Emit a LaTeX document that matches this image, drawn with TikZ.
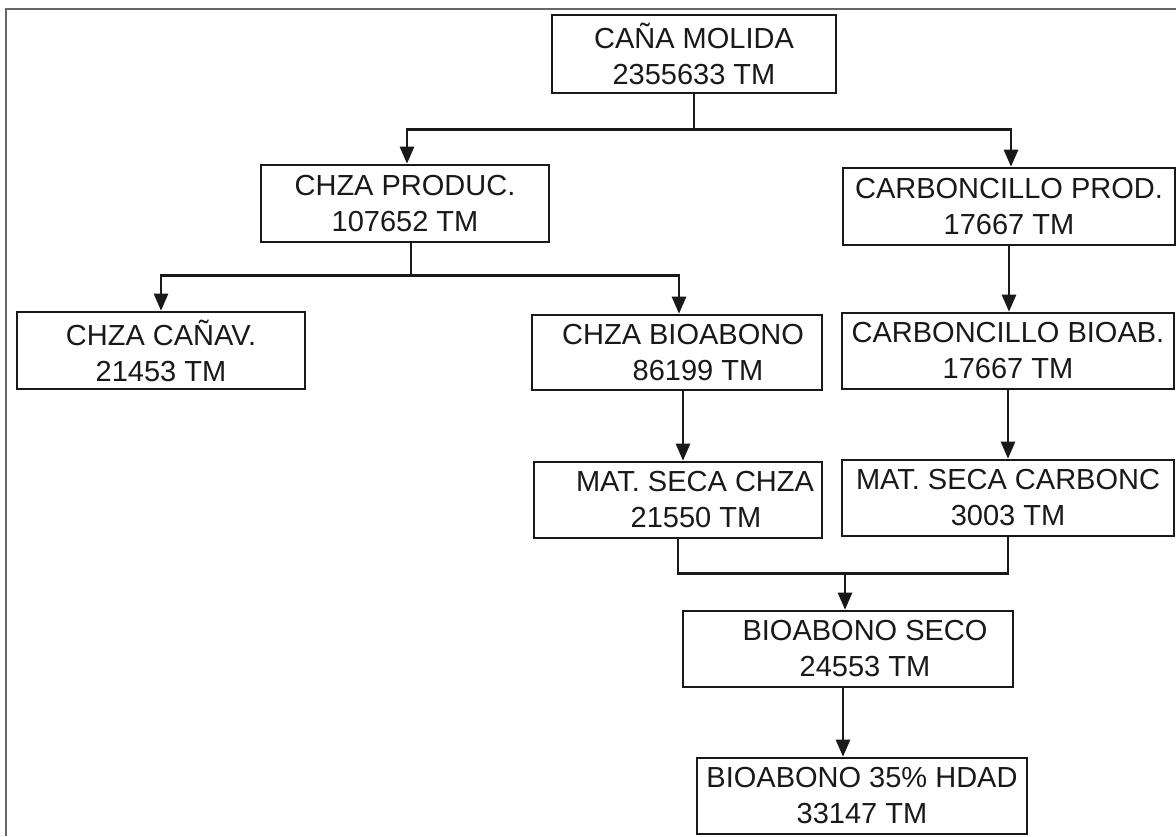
\documentclass[tikz,border=0pt]{standalone}
\usepackage{fontspec}
\setmainfont{Liberation Sans}
\usetikzlibrary{arrows.meta}
\tikzset{
  box/.style={draw=black!90, line width=2.6pt, fill=white, align=center, inner sep=0pt,
    font=\fontsize{29}{36}\selectfont, text=black!90},
  conn/.style={draw=black!90, line width=2.6pt},
  arr/.style={conn, -{Triangle[length=17pt,width=14pt]}},
  frame/.style={draw=black!60, line width=2pt}
}
\begin{document}
\begin{tikzpicture}[x=1pt,y=-1pt]
\useasboundingbox (0,0) rectangle (1176,836);
\draw[frame] (1176,9) -- (6,9) -- (6,836);

\node[box, minimum width=284pt, minimum height=78pt] (cana) at (694,54) {CAÑA MOLIDA\\2355633 TM};
\node[box, minimum width=288pt, minimum height=77pt] (chzaprod) at (405,203.5) {CHZA PRODUC.\\107652 TM};
\node[box, minimum width=332pt, minimum height=77pt] (carbprod) at (1009,206.5) {CARBONCILLO PROD.\\17667 TM};
\node[box, minimum width=288pt, minimum height=77pt] (chzacanav) at (161,350.5) {CHZA CAÑAV.\\21453 TM};
\node[box, minimum width=290pt, minimum height=75pt] (chzabio) at (677,352.5) {\hspace*{12pt}CHZA BIOABONO\\\hspace*{42pt}86199 TM};
\node[box, minimum width=332pt, minimum height=76pt] (carbbio) at (1008,351) {CARBONCILLO BIOAB.\\17667 TM};
\node[box, minimum width=288pt, minimum height=76pt] (matchza) at (678,500) {\hspace*{34pt}MAT. SECA CHZA\\\hspace*{36pt}21550 TM};
\node[box, minimum width=332pt, minimum height=76pt] (matcarb) at (1008,498) {MAT. SECA CARBONC\\3003 TM};
\node[box, minimum width=330pt, minimum height=76pt] (bioseco) at (848,649) {\hspace*{34pt}BIOABONO SECO\\\hspace*{34pt}24553 TM};
\node[box, minimum width=330pt, minimum height=76pt] (bio35) at (862,796) {BIOABONO 35\% HDAD\\33147 TM};

% connectors
\draw[conn] (cana.south) -- ++(0,35) coordinate (j1);
\draw[arr] (j1) -| ([xshift=2pt]chzaprod.north);
\draw[arr] (j1) -| ([xshift=2pt]carbprod.north);
\draw[conn] ([xshift=6pt]chzaprod.south) -- ++(0,32) coordinate (j2);
\draw[arr] (j2) -| (chzacanav.north);
\draw[arr] (j2) -| ([xshift=2pt]chzabio.north);
\draw[arr] (carbprod.south) -- (carbprod.south |- carbbio.north);
\draw[arr] ([xshift=6pt]chzabio.south) -- ([xshift=6pt]chzabio.south |- matchza.north);
\draw[arr] (carbbio.south) -- (carbbio.south |- matcarb.north);
\draw[conn] (matchza.south) -- ++(0,34) coordinate (j3) -| (matcarb.south);
\draw[arr] ([xshift=-3pt]bioseco.north |- j3) -- ([xshift=-3pt]bioseco.north);
\draw[arr] ([xshift=-5pt]bioseco.south) -- ([xshift=-5pt]bioseco.south |- bio35.north);
\end{tikzpicture}
\end{document}
